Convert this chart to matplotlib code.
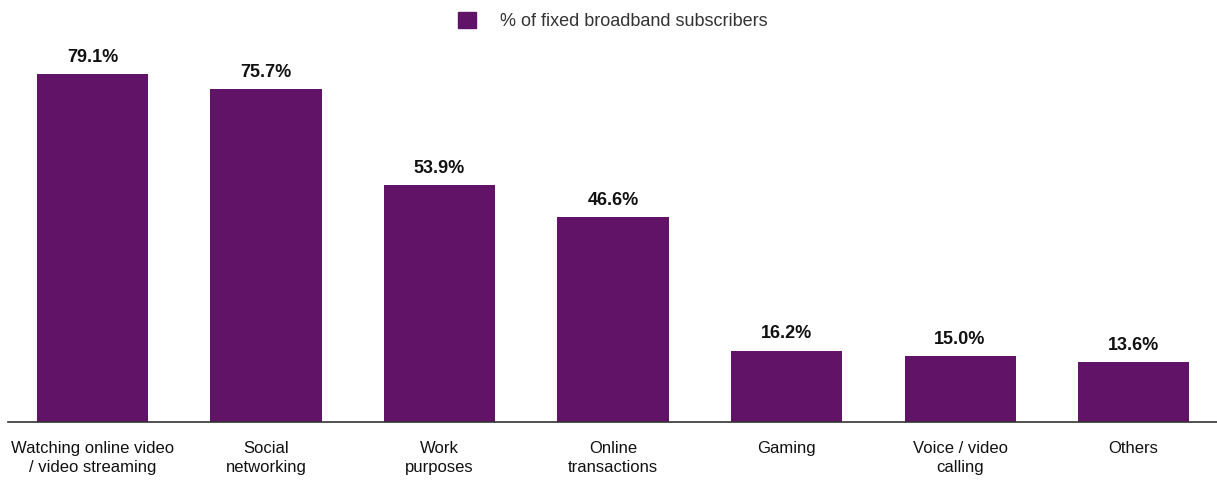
import numpy as np
import matplotlib
matplotlib.use("Agg")
import matplotlib.pyplot as plt
from matplotlib.patches import Patch

plt.rcParams["font.family"] = ["Liberation Sans", "DejaVu Sans"]

categories = [
    "Watching online video\n/ video streaming",
    "Social\nnetworking",
    "Work\npurposes",
    "Online\ntransactions",
    "Gaming",
    "Voice / video\ncalling",
    "Others",
]
share_pct = [79.1, 75.7, 53.9, 46.6, 16.2, 15.0, 13.6]
series_name = "% of fixed broadband subscribers"

PURPLE = "#611467"

fig = plt.figure(figsize=(12.17, 4.8), dpi=100)
ax = fig.add_axes([8 / 1217, 58 / 480, 1209 / 1217, 422 / 480])

x = np.arange(len(categories))
bars = ax.bar(x, share_pct, width=0.64, color=PURPLE)
ax.bar_label(bars, labels=[f"{v:.1f}%" for v in share_pct], padding=6,
             fontsize=13, fontweight="bold", color="#111111")

ax.set_xlim(-0.487, 6.481)
ax.set_ylim(0, 422 / 4.4)
ax.set_xticks(x)
ax.set_xticklabels(categories, fontsize=12, color="#111111", linespacing=1.3)
ax.tick_params(axis="x", length=0, pad=14)
ax.set_yticks([])
for side in ["top", "right", "left"]:
    ax.spines[side].set_visible(False)
ax.spines["bottom"].set_color("#333333")
ax.spines["bottom"].set_linewidth(1.2)

# legend centred above the bars
fig.legend(handles=[Patch(color=PURPLE, label=series_name)],
           loc="center", bbox_to_anchor=(613 / 1217, 1 - 21 / 480),
           frameon=False, fontsize=13, handlelength=1.0, handleheight=1.0,
           handletextpad=1.3, labelcolor="#333333")

fig.savefig("out.png", dpi=100)
